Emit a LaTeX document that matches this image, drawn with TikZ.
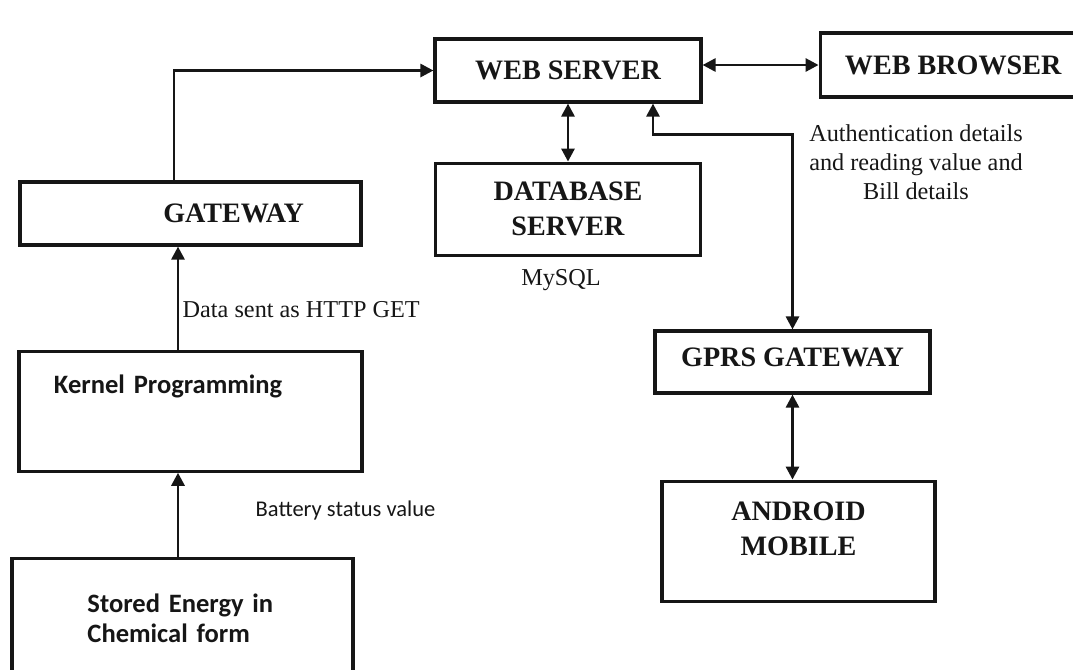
\documentclass[tikz,border=0pt]{standalone}
\usepackage{fontspec}
\setmainfont{Liberation Serif}
\newfontfamily\calfont{Carlito}
\usepackage{xcolor}
\usetikzlibrary{arrows.meta,positioning}
\definecolor{ink}{RGB}{22,22,22}

\begin{document}
\begin{tikzpicture}[
  font=\fontsize{8}{10}\selectfont\bfseries, text=ink, node distance=5.8mm and 11.6mm,
  blk/.style={draw=ink, line width=0.9pt, align=center, inner sep=2pt},
  cal/.style={font=\calfont\fontsize{7.55}{8.5}\selectfont\bfseries},
  lbl/.style={font=\fontsize{6.9}{8.2}\selectfont, align=center, inner sep=0pt},
  sanslbl/.style={font=\calfont\fontsize{6.4}{8}\selectfont, inner sep=0pt},
  arr/.style={-{Triangle[length=1.3mm, width=1.3mm]}, line width=0.8pt, ink},
  dbl/.style={{Triangle[length=1.3mm, width=1.3mm]}-{Triangle[length=1.3mm, width=1.3mm]}, line width=0.8pt, ink},
]
\useasboundingbox (0,0) rectangle (10.73,-6.69);
\node[blk, minimum width=2.66cm, minimum height=0.63cm] (ws) at (5.68,-0.705) {WEB SERVER};
\node[blk, minimum width=2.66cm, minimum height=0.64cm, right=11.6mm of ws, yshift=0.55mm] (wb) {WEB BROWSER};
\node[blk, minimum width=2.65cm, minimum height=0.92cm, below=5.8mm of ws] (db) {DATABASE\\SERVER};
\node[blk, minimum width=3.41cm, minimum height=0.63cm, text width=2.27cm, inner xsep=5.7mm, align=right] (gw) at (1.905,-2.135) {GATEWAY};
\node[blk, cal, minimum width=3.43cm, minimum height=1.2cm, text width=2.73cm, inner xsep=3.5mm, align=left, text depth=5.3mm, below=10.3mm of gw] (kp) {Kernel Programming};
\node[blk, cal, minimum width=3.41cm, minimum height=1.2cm, text width=1.9cm, inner xsep=7.55mm, align=left, below=8.4mm of kp, xshift=-0.8mm] (se) {Stored Energy in\\Chemical form};
\node[blk, minimum width=2.75cm, minimum height=0.62cm, text depth=1mm] (gp) at (7.925,-3.62) {GPRS GATEWAY};
\node[blk, minimum width=2.73cm, minimum height=1.2cm, text depth=2.5mm, below=8.5mm of gp, xshift=0.6mm] (am) {ANDROID\\MOBILE};
\node[lbl, anchor=west] (http) at (1.82,-3.10) {Data sent as HTTP GET};
\node[sanslbl, anchor=west] (batt) at (2.55,-5.10) {Battery status value};
\node[lbl] (sql) at (5.61,-2.80) {MySQL};
\node[lbl] (auth) at (9.16,-1.62) {Authentication details\\and reading value and\\Bill details};
\coordinate (bend) at ([yshift=-3.1mm]ws.south -| gp.north);
\draw[arr] ([xshift=-1.65mm]gw.north) |- (ws.west);
\draw[dbl] (ws.east |- wb.west) -- (wb.west);
\draw[dbl] (ws.south) -- (db.north);
\draw[dbl] (gp.north) -- (bend) -| ([xshift=8.5mm]ws.south);
\draw[dbl] (gp.south) -- (gp.south |- am.north);
\draw[arr] ([xshift=-1.25mm]kp.north) -- ([xshift=-1.25mm]gw.south);
\draw[arr] ([xshift=-1.25mm]kp.south |- se.north) -- ([xshift=-1.25mm]kp.south);
\end{tikzpicture}
\end{document}
